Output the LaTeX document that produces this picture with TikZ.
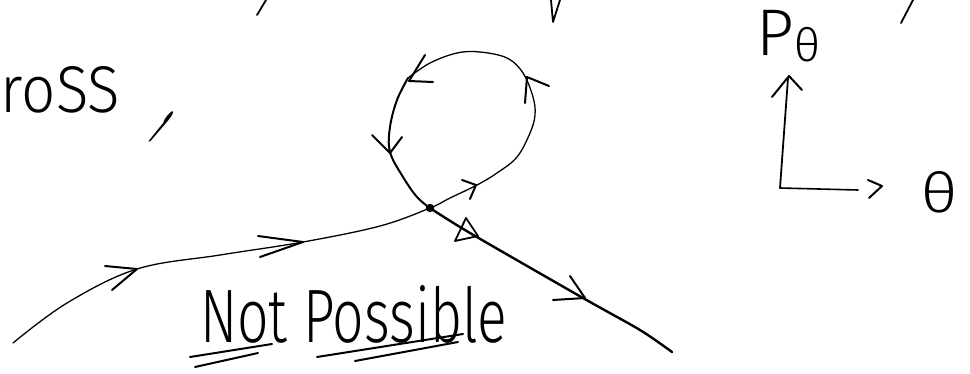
\documentclass[tikz,border=0pt]{standalone}
\usepackage{fontspec}
\usepackage{graphicx}
\newfontfamily\hand{Fira Sans Light}
\tikzset{
  pen/.style={line width=1.3pt, line cap=round, line join=round},
  heavypen/.style={line width=2.4pt, line cap=round, line join=round},
  barb/.style={line width=2pt, line cap=round, line join=round},
  label/.style={inner sep=0pt, outer sep=0pt},
}
\begin{document}
\begin{tikzpicture}[x=1pt, y=-1pt]
\useasboundingbox[fill=white] (0,0) rectangle (970,373);

% key points
\coordinate (start) at (13,343);
\coordinate (cross) at (430,208);
\coordinate (finish) at (672,352);
\coordinate (O) at (780,188);
\coordinate (ytip) at (788,78);
\coordinate (xend) at (858,190);

% remnants of text above
\draw[pen, line width=1.8pt] (266,0) -- (257,15);
\draw[pen, line width=1.8pt] (551,0) -- (553,22) -- (560,0);
\draw[pen, line width=1.8pt] (913,0) -- (901,23);

% incoming branch and right/top of loop (thin)
\draw[pen] plot[smooth, tension=0.6] coordinates {
  (start) (67,303) (137,269) (220,255) (303,242) (380,226) (cross)
  (450,198) (477,185) (497,173) (517,157) (530,133) (535,115) (533,97)
  (523,73) (507,58) (480,52) (457,53) (430,63) (408,78)};
% left side of loop and outgoing branch (heavy)
\draw[heavypen, line width=2pt] plot[smooth, tension=0.6] coordinates {
  (408,78) (397,100) (390,127) (390,152) (403,177) (417,197) (cross)};
\draw[heavypen] plot[smooth, tension=0.5] coordinates {
  (cross) (470,233) (583,298) (640,330) (finish)};
\fill (cross) circle (4.2pt);

% arrowheads along the trajectory
\draw[barb] (105,266) -- (137,269) -- (112,290);
\draw[barb] (258,236) -- (303,242) -- (260,257);
\draw[barb] (462,180) -- (476,185) -- (470,199);
\draw[barb] (525,103) -- (527,77) -- (549,86);
\draw[barb] (425,55) -- (409,81) -- (433,82);
\draw[barb] (372,135) -- (390,153) -- (402,137);
\draw[barb, line width=1.8pt] (466,218) -- (455,241) -- (478,236) -- cycle;
\draw[barb] (570,276) -- (585,298) -- (553,300);

% axes
\draw[pen, line width=1.8pt] (O) -- (ytip);
\draw[pen, line width=1.6pt] (O) -- (xend);
\draw[barb] (772,97) -- (789,76) -- (802,90);
\draw[barb] (868,180) -- (882,186) -- (869,198);
\node[label, anchor=base west] (ptheta) at (756,55)
  {\hand\fontsize{66}{66}\selectfont P\kern1pt\raisebox{-6pt}{\fontsize{46}{46}\selectfont θ}};
\node[label, anchor=base west] (theta) at (921,212)
  {\resizebox{36pt}{41pt}{\hand θ}};

% text
\node[label, anchor=base west] (cross text) at (1,112)
  {\resizebox{119pt}{46pt}{\hand roSS}};
\node[label, anchor=north east, xslant=0.7, transform shape] (comma) at (178,112)
  {\resizebox*{10pt}{30pt}{\hand ,}};
\node[label, anchor=base west] (np) at (200,342)
  {\resizebox{307pt}{57pt}{\hand Not Possible}};

% underlines
\draw[barb] (190,357) -- (272,344);
\draw[barb] (195,367) -- (258,353);
\draw[barb] (317,357) -- (463,334);
\draw[barb] (355,361) -- (458,342);
\end{tikzpicture}
\end{document}
